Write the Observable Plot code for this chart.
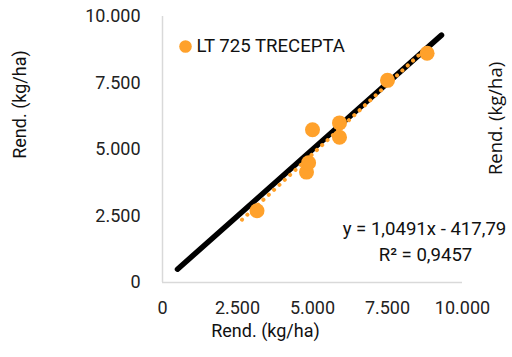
<!DOCTYPE html>
<html>
<head>
<meta charset="utf-8">
<script src="https://cdn.jsdelivr.net/npm/d3@7"></script>
<script src="https://cdn.jsdelivr.net/npm/@observablehq/plot@0.6"></script>
<style>
  html, body { margin: 0; padding: 0; background: #fff; }
  #chart { width: 512px; height: 357px; }
</style>
</head>
<body>
<div id="chart"></div>
<script>
// Data
const xValues = [3150, 4800, 4870, 5000, 5900, 5900, 7500, 8820];
const yValues = [2700, 4150, 4500, 5740, 6000, 5460, 7600, 8620];
const seriesName = "LT 725 TRECEPTA";
const tickValues = [0, 2500, 5000, 7500, 10000];
const tickLabels = ["0", "2.500", "5.000", "7.500", "10.000"];
const refLineX = [500, 9300];          // 1:1 reference line
const slope = 1.0491, intercept = -417.79;
const trendX = [2650, 8820];
const equationLines = ["y = 1,0491x - 417,79", "R² = 0,9457"];
const axisTitle = "Rend. (kg/ha)";

const orange = "#ffa12b";
const points = xValues.map((x, i) => ({x, y: yValues[i]}));
const refLine = refLineX.map(v => ({x: v, y: v}));
const trend = trendX.map(x => ({x, y: slope * x + intercept}));
const fmt = d => tickLabels[tickValues.indexOf(d)];

const chart = Plot.plot({
  width: 512,
  height: 357,
  marginLeft: 162,
  marginRight: 50,
  marginTop: 16,
  marginBottom: 75,
  style: {fontFamily: "Roboto", fontSize: "18px", color: "#222", background: "#fff"},
  x: {domain: [0, 10000]},
  y: {domain: [0, 10000]},
  marks: [
    Plot.ruleX([0], {stroke: "#d9d9d9", strokeWidth: 1.5}),
    Plot.ruleY([0], {stroke: "#d9d9d9", strokeWidth: 1.5}),
    Plot.axisX({ticks: tickValues, tickFormat: fmt, tickSize: 0, tickPadding: 19, fontSize: 18, label: null}),
    Plot.axisY({ticks: tickValues, tickFormat: fmt, tickSize: 0, tickPadding: 22, fontSize: 18, label: null}),
    Plot.line(refLine, {x: "x", y: "y", stroke: "#000", strokeWidth: 5.5, strokeLinecap: "round"}),
    Plot.dot(points, {x: "x", y: "y", r: 7.5, fill: orange}),
    Plot.line(trend, {x: "x", y: "y", stroke: orange, strokeWidth: 4, strokeLinecap: "round", strokeDasharray: "0.1 7.2"}),
    // legend
    Plot.dot([seriesName], {frameAnchor: "top-left", dx: 23, dy: 30, r: 6.3, fill: orange}),
    Plot.text([seriesName], {frameAnchor: "top-left", dx: 34, dy: 30, text: d => d, textAnchor: "start", lineAnchor: "middle", fontSize: 18.6, fill: "#111"}),
    // equation
    Plot.text([equationLines[0]], {frameAnchor: "bottom-right", dx: -38, dy: -53, text: d => d, textAnchor: "middle", lineAnchor: "middle", fontSize: 18.6, fill: "#111"}),
    Plot.text([equationLines[1]], {frameAnchor: "bottom-right", dx: -37, dy: -27, text: d => d, textAnchor: "middle", lineAnchor: "middle", fontSize: 18.6, fill: "#111"}),
    // axis titles
    Plot.text([axisTitle], {frameAnchor: "bottom-left", dx: 103, dy: 49, text: d => d, textAnchor: "middle", lineAnchor: "middle", fontSize: 18, fill: "#111"}),
    Plot.text([axisTitle], {frameAnchor: "top-left", dx: -142, dy: 88, rotate: -90, text: d => d, textAnchor: "middle", lineAnchor: "middle", fontSize: 18, fill: "#111"}),
    Plot.text([axisTitle], {frameAnchor: "top-right", dx: 34, dy: 102, rotate: -90, text: d => d, textAnchor: "middle", lineAnchor: "middle", fontSize: 18.5, fontFamily: "Open Sans", fill: "#111"})
  ]
});
document.getElementById("chart").appendChild(chart);
</script>
</body>
</html>
